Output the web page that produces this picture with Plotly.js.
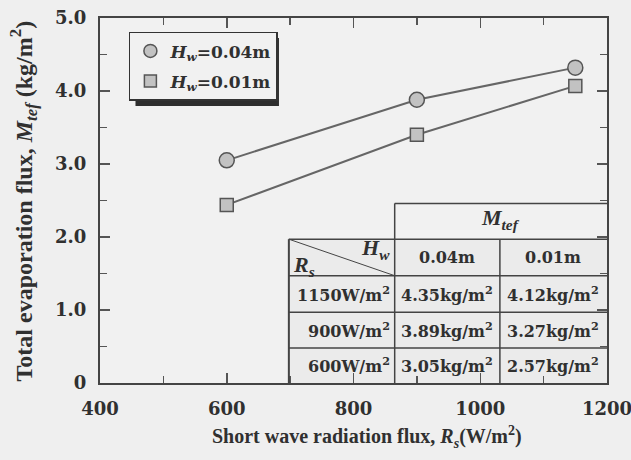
<!DOCTYPE html>
<html>
<head>
<meta charset="utf-8">
<script src="https://cdn.plot.ly/plotly-3.0.1.min.js"></script>
<style>
  html, body { margin: 0; padding: 0; background: #efefef; }
  #chart { width: 631px; height: 460px; }
</style>
</head>
<body>
<div id="chart"></div>
<script>
// ---- data ----
const radiation = [600, 900, 1150];
const fluxHw004 = [3.05, 3.88, 4.32];
const fluxHw001 = [2.44, 3.40, 4.07];
const seriesNames = ['<i>H</i><sub><i>w</i></sub>=0.04m', '<i>H</i><sub><i>w</i></sub>=0.01m'];

const xTickVals = [400, 600, 800, 1000, 1200];
const xTickText = ['400', '600', '800', '1000', '1200'];
const yTickVals = [0, 1, 2, 3, 4, 5];
const yTickText = ['0', '1.0', '2.0', '3.0', '4.0', '5.0'];
const xTitle = 'Short wave radiation flux, <i>R</i><sub><i>s</i></sub>(W/m<sup>2</sup>)';
const yTitle = 'Total evaporation flux, <i>M</i><sub><i>tef</i></sub> (kg/m<sup>2</sup>)';

const tableHeader = '<i>M</i><sub><i>tef</i></sub>';
const tableColHeads = ['0.04m', '0.01m'];
const tableRowLabels = ['1150W/m<sup>2</sup>', '900W/m<sup>2</sup>', '600W/m<sup>2</sup>'];
const tableColHw004 = ['4.35kg/m<sup>2</sup>', '3.89kg/m<sup>2</sup>', '3.05kg/m<sup>2</sup>'];
const tableColHw001 = ['4.12kg/m<sup>2</sup>', '3.27kg/m<sup>2</sup>', '2.57kg/m<sup>2</sup>'];

// ---- style / layout ----
const ink = '#303030';
const serif = 'Liberation Serif, Times New Roman, serif';
const wide = 'DejaVu Serif, serif';
const lineCol = '#666666';
const markFill = '#c2c2c2';

const traces = [
  { x: radiation, y: fluxHw004, name: seriesNames[0], type: 'scatter', mode: 'lines+markers', showlegend: false,
    line: { color: lineCol, width: 2 },
    marker: { symbol: 'circle', size: 15, color: markFill, line: { color: '#555', width: 1.5 } } },
  { x: radiation, y: fluxHw001, name: seriesNames[1], type: 'scatter', mode: 'lines+markers', showlegend: false,
    line: { color: lineCol, width: 2 },
    marker: { symbol: 'square', size: 13, color: markFill, line: { color: '#555', width: 1.5 } } },
  // legend entries (marker only, as in the reference)
  { x: [null], y: [null], name: seriesNames[0], type: 'scatter', mode: 'markers', legendgroup: 'a',
    marker: { symbol: 'circle', size: 13, color: markFill, line: { color: '#555', width: 1.5 } } },
  { x: [null], y: [null], name: seriesNames[1], type: 'scatter', mode: 'markers', legendgroup: 'b',
    marker: { symbol: 'square', size: 12, color: markFill, line: { color: '#555', width: 1.5 } } }
];

// table geometry in data coordinates
const tx = [698, 865, 1031, 1200];
const ty = [2.46, 1.97, 1.47, 0.97, 0.48, 0];
const tcol = '#444';
const shapes = [];
function seg(x0, y0, x1, y1, w) {
  shapes.push({ type: 'line', xref: 'x', yref: 'y', x0, y0, x1, y1, line: { color: tcol, width: w || 1.5 } });
}
shapes.push({ type: 'rect', xref: 'x', yref: 'y', x0: tx[0], y0: ty[1], x1: tx[3], y1: 0, fillcolor: '#ebebeb', line: { width: 0 }, layer: 'below' });
seg(tx[1], ty[0], tx[3], ty[0]);
for (let i = 1; i <= 4; i++) seg(tx[0], ty[i], tx[3], ty[i]);
seg(tx[0], ty[1], tx[0], 0, 2);
seg(tx[1], ty[0], tx[1], 0);
seg(tx[2], ty[1], tx[2], 0);
seg(tx[0], ty[1], tx[1], ty[2], 1); // diagonal
// legend drop shadow
shapes.push({ type: 'rect', xref: 'paper', yref: 'paper', x0: 0.07, x1: 0.353, y0: 0.759, y1: 0.945,
  fillcolor: '#2e2e2e', line: { width: 0 }, layer: 'above' });

const tf = { family: wide, size: 16, color: ink, weight: 700 };
const tfi = { family: serif, size: 22, color: ink, weight: 700, style: 'italic' };
const annotations = [];
function cell(x, y, text, opts) {
  annotations.push(Object.assign({ xref: 'x', yref: 'y', x, y, text, showarrow: false, font: tf }, opts || {}));
}
cell((tx[1] + tx[3]) / 2, (ty[0] + ty[1]) / 2 + 0.03, tableHeader, { font: tfi });
cell((tx[1] + tx[2]) / 2, (ty[1] + ty[2]) / 2, tableColHeads[0]);
cell((tx[2] + tx[3]) / 2, (ty[1] + ty[2]) / 2, tableColHeads[1]);
cell(tx[0] + 3, ty[2] + 0.13, '<i>R</i><sub><i>s</i></sub>', { xanchor: 'left', font: tfi });
cell(tx[1] - 4, ty[1] - 0.13, '<i>H</i><sub><i>w</i></sub>', { xanchor: 'right', font: tfi });
for (let r = 0; r < 3; r++) {
  const yc = (ty[r + 2] + ty[r + 3]) / 2;
  cell(tx[1] - 5, yc, tableRowLabels[r], { xanchor: 'right' });
  cell((tx[1] + tx[2]) / 2, yc, tableColHw004[r]);
  cell((tx[2] + tx[3]) / 2, yc, tableColHw001[r]);
}
// axis titles
annotations.push({ xref: 'paper', yref: 'paper', x: 0.527, y: -0.148, yanchor: 'middle', text: xTitle, showarrow: false,
  font: { family: serif, size: 20, color: ink, weight: 700 } });
annotations.push({ xref: 'paper', yref: 'paper', x: -0.152, y: 0.5, xanchor: 'center', yanchor: 'middle', text: yTitle,
  textangle: -90, showarrow: false, font: { family: serif, size: 24, color: ink, weight: 700 } });

const axisCommon = {
  showgrid: false, zeroline: false, showline: true, linecolor: '#444', linewidth: 2,
  mirror: 'ticks', ticks: 'inside', ticklen: 10, tickwidth: 1.5, tickcolor: '#555',
  tickfont: { family: wide, size: 18, color: ink, weight: 700 },
  ticklabelstandoff: 8, ticklabeloverflow: 'allow'
};

const layout = {
  width: 631, height: 460,
  margin: { l: 100, r: 24, t: 18, b: 77 },
  paper_bgcolor: '#efefef', plot_bgcolor: '#f1f1f1',
  showlegend: true,
  legend: {
    x: 0.057, y: 0.962, xanchor: 'left', yanchor: 'top',
    bgcolor: '#f1f1f1', bordercolor: '#333', borderwidth: 1.5,
    font: { family: wide, size: 17, color: ink, weight: 700 },
    itemwidth: 30, tracegroupgap: 5, traceorder: 'grouped'
  },
  xaxis: Object.assign({}, axisCommon, {
    range: [400, 1200], tickvals: xTickVals, ticktext: xTickText,
    minor: { dtick: 100, tick0: 400, ticks: 'inside', ticklen: 7, tickcolor: '#555', tickwidth: 1.5 }
  }),
  yaxis: Object.assign({}, axisCommon, {
    range: [0, 5], tickvals: yTickVals, ticktext: yTickText,
    minor: { dtick: 0.5, tick0: 0, ticks: 'inside', ticklen: 7, tickcolor: '#555', tickwidth: 1.5 }
  }),
  shapes, annotations
};

Plotly.newPlot('chart', traces, layout, { displayModeBar: false, staticPlot: true });
</script>
</body>
</html>
